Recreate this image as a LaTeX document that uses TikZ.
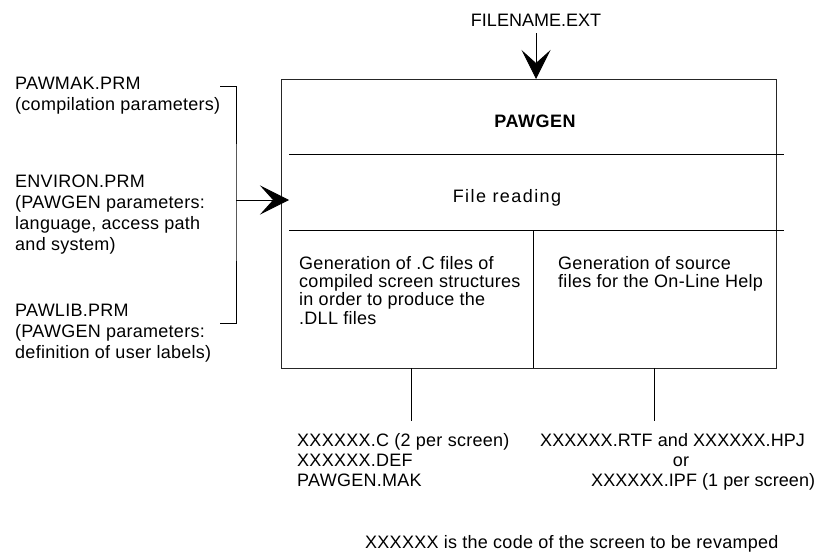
\documentclass[tikz,border=0pt]{standalone}
\usepackage{fontspec}
\setmainfont{Liberation Sans}[LetterSpace=1.5]
\usetikzlibrary{arrows.meta}
% left-aligned block of lines, aligned on the baseline of its first line
\newcommand{\linesblock}[2]{{\fontsize{18}{#1}\selectfont\begin{tabular}[t]{@{}l@{}}#2\end{tabular}}}
\begin{document}
\begin{tikzpicture}[x=1pt,y=-1pt,
  txt/.style={font=\fontsize{18}{21}\selectfont, inner sep=0pt},
  frame/.style={draw=black!85, line width=0.9pt},
  rule/.style={draw=black, line width=0.8pt},
  bigarrow/.style={draw=black, line width=0.8pt,
    -{Stealth[length=29pt,width=29pt,inset=13pt]}}]
\useasboundingbox (0,0) rectangle (818,551);

% central block
\node[frame, minimum width=495pt, minimum height=289pt, inner sep=0pt, outer sep=0pt]
  (box) at (528.5,223.5) {};
\draw[rule] (289,154) -- (784,154);
\draw[rule] (289,230) -- (784,230);
\draw[rule] (533,230) -- (533,368);

\node[txt, anchor=base, font=\fontsize{18}{21}\selectfont\bfseries] (title) at (535,127)
  {\addfontfeatures{LetterSpace=3}PAWGEN};
\node[txt, anchor=base] (read) at (507,202) {\addfontfeatures{LetterSpace=8}File reading};
\node[txt, anchor=base west] (genc) at (299,269)
  {\linesblock{18pt}{Generation of .C files of\\compiled screen structures\\in order to produce the\\.DLL files}};
\node[txt, anchor=base west] (genh) at (558,269)
  {\linesblock{18pt}{Generation of source\\files for the On-Line Help}};

% input file on top
\node[txt, anchor=base, inner sep=6pt] (fname) at (536,27) {\addfontfeatures{LetterSpace=0}FILENAME.EXT};
\draw[bigarrow] (fname.south) -- (fname.south |- box.north);

% parameter files on the left
\node[txt, anchor=base west] (mak) at (15,89)
  {\linesblock{21pt}{PAWMAK.PRM\\(compilation parameters)}};
\node[txt, anchor=base west] (env) at (15,187)
  {\linesblock{21pt}{ENVIRON.PRM\\(PAWGEN parameters:\\language, access path\\and system)}};
\node[txt, anchor=base west] (lib) at (15,316)
  {\linesblock{21pt}{PAWLIB.PRM\\(PAWGEN parameters:\\definition of user labels)}};

\coordinate (brtop) at (220,86);
\coordinate (brbot) at (220,323);
\coordinate (brmid) at (236,200);
\coordinate (tip) at (289,200);
\draw[rule] (brtop) -| (brmid) |- (brbot);
\draw[bigarrow] (brmid) -- (tip);

% generated files below
\node[txt, anchor=base west] (outc) at (297,446)
  {\linesblock{20pt}{XXXXXX.C (2 per screen)\\XXXXXX.DEF\\PAWGEN.MAK}};
\node[txt, anchor=base west] (rtf) at (540,446) {\addfontfeatures{LetterSpace=0.5}XXXXXX.RTF and XXXXXX.HPJ};
\node[txt, anchor=base] (or) at (681,466) {or};
\node[txt, anchor=base west] (ipf) at (591,486) {\addfontfeatures{LetterSpace=0.5}XXXXXX.IPF (1 per screen)};

\coordinate (dl) at (411,421);
\coordinate (dr) at (654,421);
\draw[rule] (box.south -| dl) -- (dl);
\draw[rule] (box.south -| dr) -- (dr);

\node[txt, anchor=base west] (note) at (365,548)
  {XXXXXX is the code of the screen to be revamped};
\end{tikzpicture}
\end{document}
